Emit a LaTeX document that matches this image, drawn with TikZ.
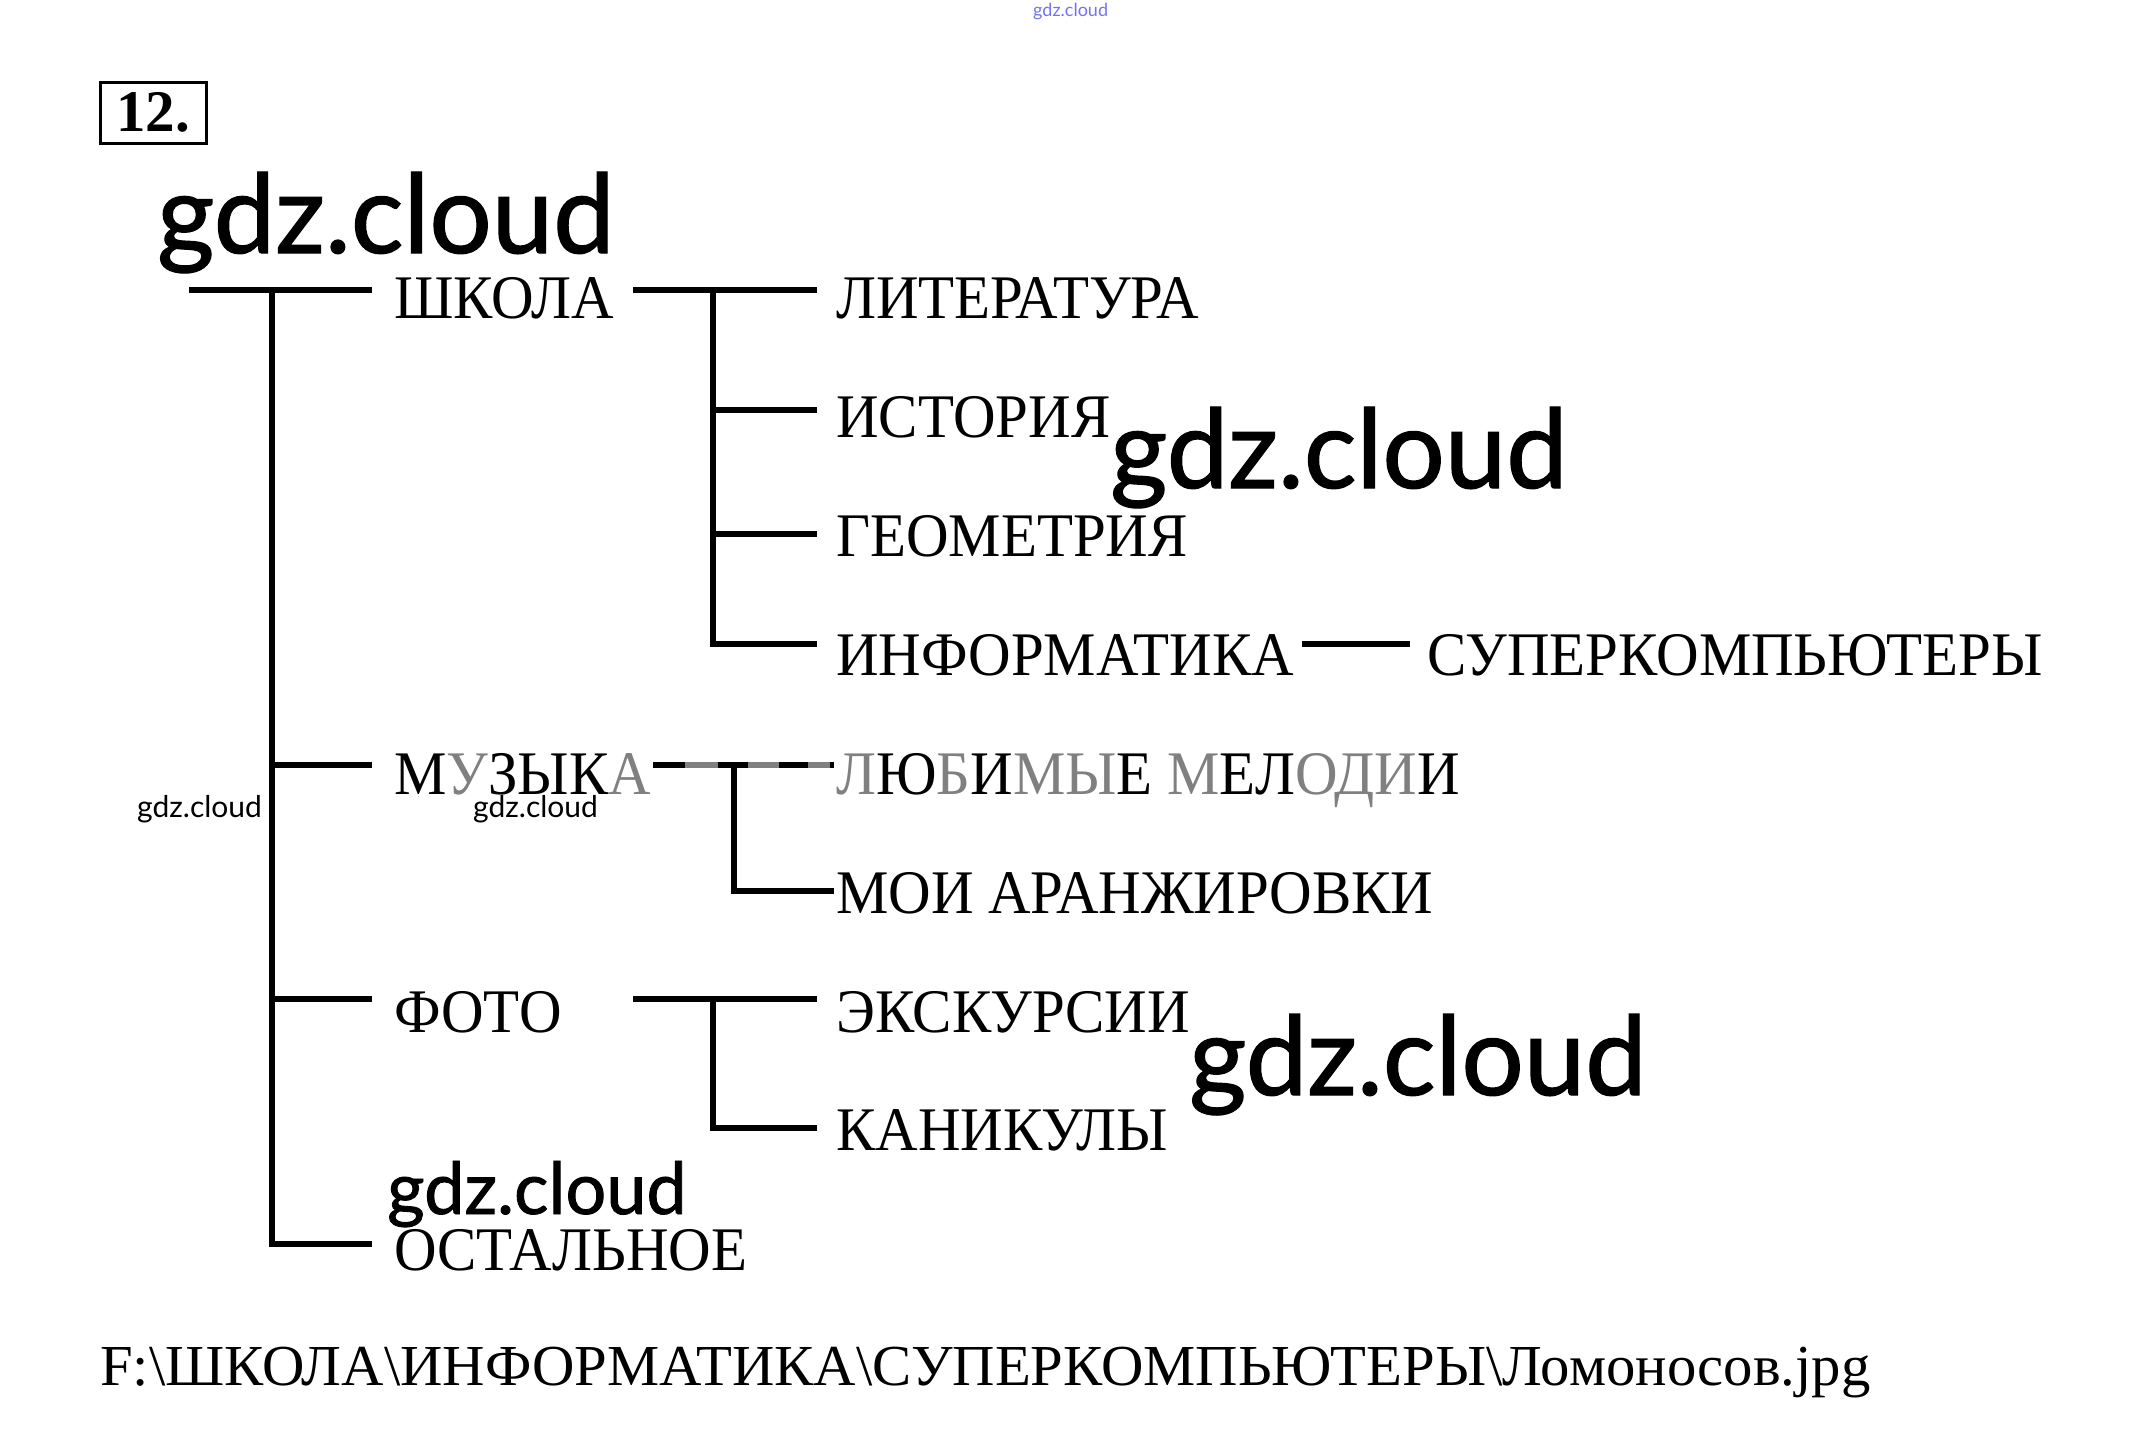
\documentclass[tikz,border=0pt]{standalone}
\usepackage{fontspec}
\setmainfont{Liberation Serif}[FakeStretch=0.95]
\newfontfamily\pathfont{Liberation Serif}[FakeStretch=1.012]
\newfontfamily\wmfont{Lato}[FakeBold=1.2]
\newfontfamily\wmthin{Lato}
\newfontfamily\numfont{Liberation Serif}
\definecolor{mg}{rgb}{0.5,0.5,0.5}
\definecolor{wmblue}{rgb}{0.45,0.45,0.95}
\begin{document}
\begin{tikzpicture}[x=1pt,y=-1pt,
  lbl/.style={anchor=base west, inner sep=0pt, font=\fontsize{62}{70}\selectfont},
  pathlbl/.style={anchor=base west, inner sep=0pt, font=\pathfont\fontsize{58}{64}\selectfont},
  wmbig/.style={anchor=base west, inner sep=0pt, font=\wmfont\fontsize{110}{114}\selectfont},
  wmmid/.style={anchor=base west, inner sep=0pt, font=\wmfont\fontsize{72}{76}\selectfont},
  wmsmall/.style={anchor=base west, inner sep=0pt, font=\wmthin\fontsize{30}{32}\selectfont},
  ln/.style={line width=5.5pt, line join=miter},
]
\useasboundingbox[fill=white] (0,0) rectangle (2143,1446);

% number box
\node[draw, line width=3pt, minimum width=106pt, minimum height=61pt, inner sep=0pt,
      font=\numfont\bfseries\fontsize{59}{62}\selectfont] (num) at (153,112.5) {12.};

% watermarks
\node[anchor=base west, inner sep=0pt, font=\wmthin\fontsize{18}{20}\selectfont, text=wmblue] (wm0) at (1033,16) {gdz.cloud};
\node[wmbig] (wm1) at (157,253) {gdz.cloud};
\node[wmbig] (wm2) at (1110,488) {gdz.cloud};
\node[wmbig] (wm3) at (1189,1095) {gdz.cloud};
\node[wmmid] (wm4) at (387,1214) {gdz.cloud};
\node[wmsmall] (wm5) at (137,817) {gdz.cloud};
\node[wmsmall] (wm6) at (473,817) {gdz.cloud};

% labels
\node[lbl] (shkola) at (394,318) {ШКОЛА};
\node[lbl] (muz) at (394,794) {М\textcolor{mg}{У}ЗЫК\textcolor{mg}{А}};
\node[lbl] (foto) at (394,1032) {ФОТО};
\node[lbl] (ost) at (394,1270) {ОСТАЛЬНОЕ};
\node[lbl] (lit) at (836,318) {ЛИТЕРАТУРА};
\node[lbl] (ist) at (836,437) {ИСТОРИЯ};
\node[lbl] (geo) at (836,556) {ГЕОМЕТРИЯ};
\node[lbl] (inf) at (836,675) {ИНФОРМАТИКА};
\node[lbl] (sup) at (1427,675) {СУПЕРКОМПЬЮТЕРЫ};
\node[lbl] (lub) at (836,794) {\textcolor{mg}{Л}Ю\textcolor{mg}{Б}И\textcolor{mg}{МЫ}Е \textcolor{mg}{М}ЕЛ\textcolor{mg}{ОДИ}И};
\node[lbl] (moi) at (836,913) {МОИ АРАНЖИРОВКИ};
\node[lbl] (eks) at (836,1032) {ЭКСКУРСИИ};
\node[lbl] (kan) at (836,1150) {КАНИКУЛЫ};
\node[pathlbl] (path) at (100,1385) {F:\textbackslash ШКОЛА\textbackslash ИНФОРМАТИКА\textbackslash СУПЕРКОМПЬЮТЕРЫ\textbackslash Ломоносов.jpg};

% junction coordinates
\coordinate (r0) at (189,290);
\coordinate (t0) at (272,290);
\coordinate (t1) at (272,765);
\coordinate (t2) at (272,999);
\coordinate (t3) at (272,1244);
\coordinate (e0) at (372,290);
\coordinate (e1) at (372,765);
\coordinate (e2) at (372,999);
\coordinate (e3) at (372,1244);

\coordinate (s0) at (633,290);
\coordinate (sj) at (713,290);
\coordinate (sj1) at (713,410);
\coordinate (sj2) at (713,534);
\coordinate (sj3) at (713,644);
\coordinate (se0) at (817,290);
\coordinate (se1) at (817,410);
\coordinate (se2) at (817,534);
\coordinate (se3) at (817,644);
\coordinate (i0) at (1302,644);
\coordinate (i1) at (1410,644);

\coordinate (m0) at (653,765);
\coordinate (mj) at (734,765);
\coordinate (mj1) at (734,891);
\coordinate (me0) at (834,765);
\coordinate (me1) at (834,891);

\coordinate (f0) at (633,999);
\coordinate (fj) at (713,999);
\coordinate (fj1) at (713,1128);
\coordinate (fe0) at (817,999);
\coordinate (fe1) at (817,1128);

% root tree
\draw[ln] (r0) -- (e0);
\draw[ln] (t0) -- (t3) -- (e3);
\draw[ln] (t1) -- (e1);
\draw[ln] (t2) -- (e2);

% school subtree
\draw[ln] (s0) -- (se0);
\draw[ln] (sj) -- (sj3) -- (se3);
\draw[ln] (sj1) -- (se1);
\draw[ln] (sj2) -- (se2);
\draw[ln] (i0) -- (i1);

% music subtree
\draw[ln, mg] (m0) -- (me0);
\draw[ln, dash pattern=on 32pt off 33pt on 30pt off 31pt on 29pt off 22pt on 6pt off 0pt] (m0) -- (me0);
\draw[ln] (mj) -- (mj1) -- (me1);

% photo subtree
\draw[ln] (f0) -- (fe0);
\draw[ln] (fj) -- (fj1) -- (fe1);
\end{tikzpicture}
\end{document}
